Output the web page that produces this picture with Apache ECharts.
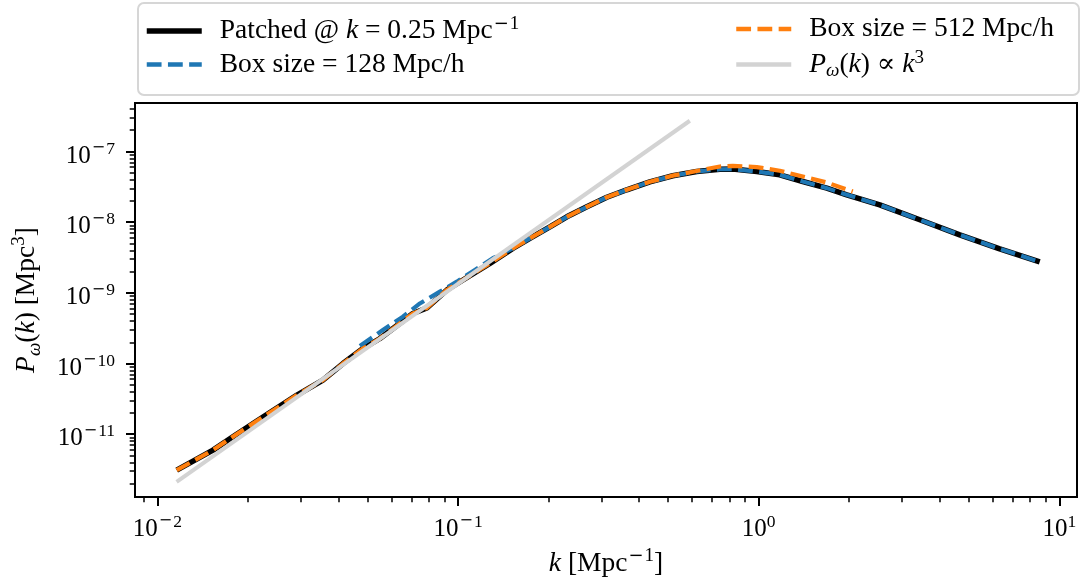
<!DOCTYPE html>
<html><head><meta charset="utf-8">
<script src="https://cdn.jsdelivr.net/npm/echarts@6/dist/echarts.min.js"></script>
<style>html,body{margin:0;padding:0;background:#fff}#c{width:1087px;height:588px}</style>
</head><body><div id="c"></div>
<script>
// ---- data ----
const kPatched = [0.01159,0.0153,0.01834,0.02244,0.02911,0.03551,0.0414,0.04825,0.05495,0.07074,0.07873,0.0918,0.1038,0.1276,0.1521,0.1733,0.202,0.23,0.2681,0.3125,0.3641,0.4343,0.5178,0.6222,0.7424,0.8202,0.9856,1.175,1.402,1.685,1.963,2.528,3.434,4.665,6.336,8.606];
const pPatched = [3.10e-12,5.96e-12,1.00e-11,1.746e-11,3.58e-11,5.83e-11,1.0e-10,1.63e-10,2.26e-10,5.11e-10,6.11e-10,1.10e-9,1.52e-9,2.61e-9,4.26e-9,5.90e-9,8.58e-9,1.19e-8,1.65e-8,2.25e-8,2.87e-8,3.72e-8,4.53e-8,5.21e-8,5.60e-8,5.63e-8,5.21e-8,4.68e-8,3.76e-8,3.03e-8,2.44e-8,1.76e-8,1.08e-8,6.61e-9,4.19e-9,2.74e-9];

const k128 = [0.04715,0.05622,0.06553,0.07464,0.087,0.09908,0.1137,0.1305,0.1521,0.1733,0.202,0.23,0.2681,0.3125,0.3641,0.4343,0.5178,0.6222,0.7424,0.8202,0.9856,1.175,1.402,1.685,1.963,2.528,3.434,4.665,6.336,8.606];
const p128 = [1.77e-10,2.98e-10,4.60e-10,7.08e-10,1.04e-9,1.44e-9,2.11e-9,3.09e-9,4.26e-9,5.90e-9,8.58e-9,1.19e-8,1.65e-8,2.25e-8,2.87e-8,3.72e-8,4.53e-8,5.21e-8,5.60e-8,5.63e-8,5.21e-8,4.68e-8,3.76e-8,3.03e-8,2.44e-8,1.76e-8,1.08e-8,6.61e-9,4.19e-9,2.74e-9];

const k512 = [0.01159,0.0153,0.01834,0.02244,0.02911,0.03551,0.0414,0.04825,0.05495,0.07074,0.07873,0.0918,0.1038,0.1276,0.1521,0.1733,0.202,0.23,0.2681,0.3125,0.3641,0.4343,0.5178,0.6222,0.7424,0.8202,0.9856,1.175,1.402,1.685,2.056];
const p512 = [3.10e-12,5.96e-12,1.00e-11,1.746e-11,3.58e-11,5.83e-11,1.0e-10,1.63e-10,2.26e-10,5.11e-10,6.11e-10,1.10e-9,1.52e-9,2.61e-9,4.26e-9,5.90e-9,8.58e-9,1.19e-8,1.65e-8,2.25e-8,2.87e-8,3.72e-8,4.55e-8,5.30e-8,6.13e-8,6.27e-8,6.01e-8,5.33e-8,4.43e-8,3.64e-8,2.71e-8];

const kRef = [0.01158, 0.590];
const pRef = [2.12e-12, 2.72e-7];

const xMajor = [0.01, 0.1, 1, 10];
const yMajor = [1e-11, 1e-10, 1e-9, 1e-8, 1e-7];
const X_MIN = 0.00842, X_MAX = 11.45;
const Y_MIN = 1.294e-12, Y_MAX = 4.85e-7;

const N_PATCH = 'Patched @ k = 0.25 Mpc^-1';
const N_128 = 'Box size = 128 Mpc/h';
const N_512 = 'Box size = 512 Mpc/h';
const N_REF = 'P_w(k) ∝ k^3';
const legendLabels = {};
legendLabels[N_PATCH] = '{t|Patched @ }{i|k}{t| = 0.25 Mpc}{m|−}{s|1}';
legendLabels[N_128] = '{t|Box size = 128 Mpc/h}';
legendLabels[N_512] = '{t|Box size = 512 Mpc/h}';
legendLabels[N_REF] = '{i|P}{u|ω}{t|(}{i|k}{t|) ∝ }{i|k}{s|3}';

// ---- helpers ----
function minorTicks(lo, hi, e0, e1) {
  const out = [];
  for (let e = e0; e <= e1; e++) for (let m = 2; m <= 9; m++) {
    const v = m * Math.pow(10, e);
    if (v >= lo && v <= hi) out.push(v);
  }
  return out;
}
const xMinor = minorTicks(X_MIN, X_MAX, -3, 1);
const yMinor = minorTicks(Y_MIN, Y_MAX, -13, -7);
const pairs = (xs, ys) => xs.map((x, i) => [x, ys[i]]);

const F = '"Liberation Serif", "Times New Roman", "DejaVu Serif", serif';
const FM = '"DejaVu Serif", serif';
const tickRich = {
  b: {fontFamily: F, fontSize: 25, lineHeight: 32, color: '#000', verticalAlign: 'middle'},
  s: {fontFamily: F, fontSize: 17.5, lineHeight: 17, color: '#000', verticalAlign: 'top'},
  m: {fontFamily: FM, fontSize: 16, lineHeight: 17, color: '#000', verticalAlign: 'top', padding: [0, 1, 0, 1]}
};
const tickFmt = v => {
  const e = Math.round(Math.log10(v));
  return '{b|10}' + (e < 0 ? '{m|−}{s|' + (-e) + '}' : '{s|' + e + '}');
};
function mkRich(fs, lh, ss, sl, ul) {
  return {
    t: {fontFamily: F, fontSize: fs, lineHeight: lh, color: '#000', verticalAlign: 'middle'},
    i: {fontFamily: F, fontSize: fs, lineHeight: lh, color: '#000', verticalAlign: 'middle', fontStyle: 'italic'},
    s: {fontFamily: F, fontSize: ss, lineHeight: sl, color: '#000', verticalAlign: 'top'},
    m: {fontFamily: FM, fontSize: ss - 1, lineHeight: sl, color: '#000', verticalAlign: 'top', padding: [0, 1, 0, 1]},
    u: {fontFamily: F, fontSize: ss, lineHeight: ul, color: '#000', verticalAlign: 'bottom', fontStyle: 'italic'}
  };
}
const nameRich = mkRich(27.5, 34, 19, 19, 20);
const legRich = mkRich(27.5, 32, 19, 18, 18);

function majorAxis(isX) {
  return {
    type: 'log', logBase: 10,
    min: isX ? X_MIN : Y_MIN, max: isX ? X_MAX : Y_MAX,
    position: isX ? 'bottom' : 'left',
    axisLine: {show: false},
    splitLine: {show: false},
    minorTick: {show: false},
    axisTick: {show: true, length: 9, lineStyle: {color: '#000', width: 2}, customValues: isX ? xMajor : yMajor},
    axisLabel: {customValues: isX ? xMajor : yMajor, formatter: tickFmt, rich: tickRich,
      margin: isX ? 16 : 20, padding: isX ? 0 : [9, 0, 0, 0]},
    name: isX ? '{i|k}{t| [Mpc}{m|−}{s|1}{t|]}' : '{i|P}{u|ω}{t|(}{i|k}{t|) [Mpc}{s|3}{t|]}',
    nameLocation: 'middle',
    nameGap: isX ? 50 : 91,
    nameRotate: isX ? 0 : 90,
    nameTextStyle: {rich: nameRich}
  };
}
function minorAxis(isX) {
  return {
    type: 'log', logBase: 10,
    min: isX ? X_MIN : Y_MIN, max: isX ? X_MAX : Y_MAX,
    position: isX ? 'bottom' : 'left',
    axisLine: {show: false},
    splitLine: {show: false},
    axisTick: {show: true, length: 5.3, lineStyle: {color: '#000', width: 1.5}, customValues: isX ? xMinor : yMinor},
    axisLabel: {show: false}
  };
}
function legendBox(names, widths, left) {
  return {
    orient: 'vertical', left: left, top: 15, padding: 0,
    itemWidth: 55, itemHeight: 14, itemGap: 5.5,
    selectedMode: false,
    itemStyle: {opacity: 0, borderWidth: 0},
    data: names.map((n, i) => ({name: n, lineStyle: {width: widths[i]}, itemStyle: {opacity: 0, borderWidth: 0}})),
    formatter: n => legendLabels[n],
    textStyle: {padding: [0, 0, 0, 13], rich: legRich}
  };
}

const chart = echarts.init(document.getElementById('c'), null, {renderer: 'canvas'});
chart.setOption({
  animation: false,
  backgroundColor: '#fff',
  grid: {left: 135, top: 103, width: 942, height: 394, show: true, borderColor: '#000', borderWidth: 2,
         containLabel: false, outerBoundsMode: 'none'},
  xAxis: [majorAxis(true), minorAxis(true)],
  yAxis: [majorAxis(false), minorAxis(false)],
  legend: [legendBox([N_PATCH, N_128], [5.5, 4.5], 144), legendBox([N_512, N_REF], [4.5, 4.5], 734)],
  graphic: [{type: 'rect', z: -1, shape: {x: 138, y: 3, width: 941, height: 92, r: 6},
             style: {fill: 'rgba(255,255,255,0.8)', stroke: '#d6d6d6', lineWidth: 2}}],
  series: [
    {name: N_PATCH, type: 'line', data: pairs(kPatched, pPatched), showSymbol: false, symbol: 'none',
     lineStyle: {color: '#000', width: 5.5, cap: 'butt'}, itemStyle: {color: '#000'}},
    {name: N_128, type: 'line', data: pairs(k128, p128), showSymbol: false, symbol: 'none',
     lineStyle: {color: '#1f77b4', width: 4.2, type: [14.8, 6.4], cap: 'butt'}, itemStyle: {color: '#1f77b4'}},
    {name: N_512, type: 'line', data: pairs(k512, p512), showSymbol: false, symbol: 'none',
     lineStyle: {color: '#ff7f0e', width: 4.2, type: [14.8, 6.4], cap: 'butt'}, itemStyle: {color: '#ff7f0e'}},
    {name: N_REF, type: 'line', data: pairs(kRef, pRef), showSymbol: false, symbol: 'none',
     lineStyle: {color: '#d3d3d3', width: 4, cap: 'butt'}, itemStyle: {color: '#d3d3d3'}}
  ]
});
</script></body></html>
